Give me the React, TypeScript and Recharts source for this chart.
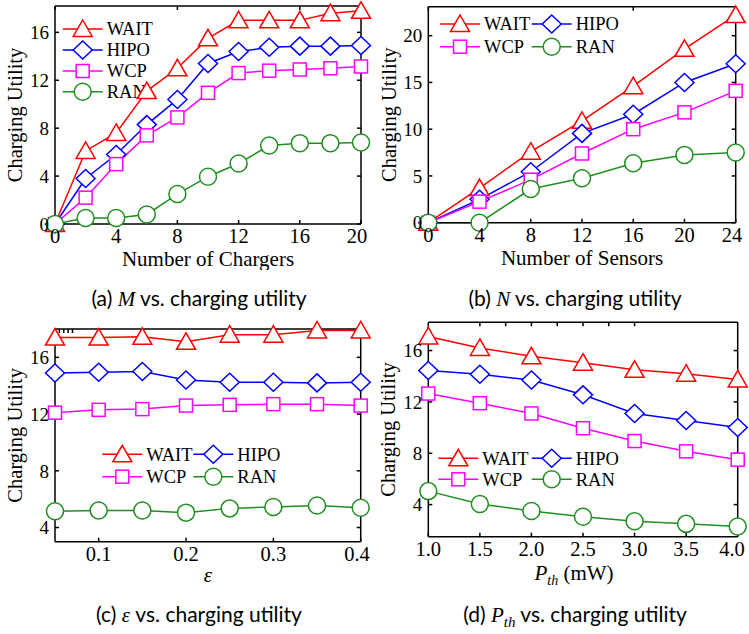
import { LineChart, Line, XAxis, YAxis } from "recharts"

const SERIF = '"Liberation Serif", "Times New Roman", serif'
const SANS = 'Lato, "Noto Sans", sans-serif'

// (a) number of chargers
const chargerCounts = [0, 2, 4, 6, 8, 10, 12, 14, 16, 18, 20]
const waitByChargers = [0, 6.1, 7.6, 11.1, 13.0, 15.5, 17.0, 17.0, 17.0, 17.6, 17.8]
const hipoByChargers = [0, 3.8, 5.8, 8.3, 10.4, 13.4, 14.4, 14.75, 14.85, 14.85, 14.9]
const wcpByChargers = [0, 2.2, 5.0, 7.4, 8.9, 10.95, 12.6, 12.8, 12.9, 13.0, 13.15]
const ranByChargers = [0, 0.5, 0.5, 0.8, 2.5, 3.95, 5.05, 6.55, 6.75, 6.75, 6.8]

// (b) number of sensors
const sensorCounts = [0, 4, 8, 12, 16, 20, 24]
const waitBySensors = [0, 3.7, 7.6, 10.9, 14.6, 18.6, 22.2]
const hipoBySensors = [0, 2.5, 5.45, 9.55, 11.6, 15.0, 17.0]
const wcpBySensors = [0, 2.25, 4.6, 7.4, 10.0, 11.8, 14.1]
const ranBySensors = [0, 0, 3.6, 4.75, 6.35, 7.25, 7.5]

// (c) epsilon
const epsilons = [0.05, 0.1, 0.15, 0.2, 0.25, 0.3, 0.35, 0.4]
const waitByEps = [17.4, 17.4, 17.45, 17.1, 17.6, 17.6, 17.9, 17.9]
const hipoByEps = [14.9, 14.95, 15.0, 14.4, 14.25, 14.25, 14.2, 14.25]
const wcpByEps = [12.1, 12.3, 12.35, 12.6, 12.65, 12.7, 12.7, 12.6]
const ranByEps = [5.15, 5.2, 5.2, 5.05, 5.35, 5.45, 5.55, 5.4]

// (d) power threshold
const pthValues = [1.0, 1.5, 2.0, 2.5, 3.0, 3.5, 4.0]
const waitByPth = [17.1, 16.2, 15.55, 15.05, 14.5, 14.2, 13.75]
const hipoByPth = [14.45, 14.15, 13.7, 12.55, 11.1, 10.55, 10.0]
const wcpByPth = [12.65, 11.9, 11.1, 9.95, 8.95, 8.15, 7.5]
const ranByPth = [5.05, 4.05, 3.5, 3.05, 2.7, 2.5, 2.3]

const series = [
  { key: "WAIT", color: "#ff0000", shape: "triangle" },
  { key: "HIPO", color: "#0000ff", shape: "diamond" },
  { key: "WCP", color: "#ff00ff", shape: "square" },
  { key: "RAN", color: "#1f8f1f", shape: "circle" },
]

const rows = (xs: number[], w: number[], h: number[], c: number[], r: number[]) =>
  xs.map((x, i) => ({ x, WAIT: w[i], HIPO: h[i], WCP: c[i], RAN: r[i] }))

function Marker({ shape, cx, cy, color }: { shape: string; cx: number; cy: number; color: string }) {
  const common = { fill: "#fff", stroke: color, strokeWidth: 1.5 }
  if (shape === "triangle")
    return <polygon points={`${cx},${cy - 9} ${cx + 9.5},${cy + 7.5} ${cx - 9.5},${cy + 7.5}`} {...common} />
  if (shape === "diamond")
    return <polygon points={`${cx},${cy - 9} ${cx + 9.5},${cy} ${cx},${cy + 9} ${cx - 9.5},${cy}`} {...common} />
  if (shape === "square") return <rect x={cx - 6.5} y={cy - 6.5} width={13} height={13} {...common} />
  return <circle cx={cx} cy={cy} r={8.5} {...common} />
}

type Box = { top: number; right: number; bottom: number; left: number }

type PanelProps = {
  data: any[]
  height?: number
  xDomain: [number, number]
  xTicks: number[]
  yDomain: [number, number]
  yTicks: number[]
  plot: Box // plot frame edges, in chart pixels
  xFmt?: (v: number) => string
  legend: { key: string; x: number; y: number }[]
  xLabel: React.ReactNode
  yLabelX: number
}

const W = 375
const AX = 1 // axes need a non-zero size to be drawn

function Panel(p: PanelProps) {
  const H = p.height ?? 270
  const margin = {
    top: p.plot.top - AX,
    left: p.plot.left - AX,
    right: W - p.plot.right - AX,
    bottom: H - p.plot.bottom - AX,
  }
  const plotMid = (p.plot.top + p.plot.bottom) / 2
  const axisStyle = { stroke: "#000", strokeWidth: 1.5 }
  const noLabel = () => <g />
  const fmt = p.xFmt ?? ((v: number) => String(v))
  // last label is pulled in a little so it stays inside the figure, like the original
  const xTick = (t: any) => (
    <text
      x={Math.min(t.x, W - 18)}
      y={t.y}
      dy="0.71em"
      textAnchor="middle"
      fontSize={20.5}
      fontFamily={SERIF}
      fill="#000"
    >
      {fmt(t.payload.value)}
    </text>
  )
  return (
    <LineChart width={W} height={H} data={p.data} margin={margin}>
      <XAxis
        dataKey="x"
        type="number"
        domain={p.xDomain}
        ticks={p.xTicks}
        interval={0}
        height={AX}
        tickSize={-4}
        tickMargin={8.5}
        axisLine={axisStyle}
        tickLine={axisStyle}
        tick={xTick}
      />
      <XAxis
        xAxisId="top"
        orientation="top"
        type="number"
        domain={p.xDomain}
        ticks={p.xTicks}
        allowDataOverflow
        interval={0}
        height={AX}
        tickSize={-4}
        axisLine={axisStyle}
        tickLine={axisStyle}
        tick={noLabel}
      />
      <YAxis
        type="number"
        domain={p.yDomain}
        ticks={p.yTicks}
        interval={0}
        width={AX}
        tickSize={-4}
        tickMargin={10}
        axisLine={axisStyle}
        tickLine={axisStyle}
        tick={{ fill: "#000", fontSize: 19, fontFamily: SERIF }}
      />
      <YAxis
        yAxisId="right"
        orientation="right"
        type="number"
        domain={p.yDomain}
        ticks={p.yTicks}
        allowDataOverflow
        interval={0}
        width={AX}
        tickSize={-4}
        axisLine={axisStyle}
        tickLine={axisStyle}
        tick={noLabel}
      />
      {series.map((s) => (
        <Line
          key={s.key}
          dataKey={s.key}
          type="linear"
          stroke={s.color}
          strokeWidth={1.5}
          isAnimationActive={false}
          activeDot={false}
          dot={(d: any) => <Marker key={`${s.key}-${d.index}`} shape={s.shape} cx={d.cx} cy={d.cy} color={s.color} />}
        />
      ))}
      <g>
        {p.legend.map((l) => {
          const s = series.find((t) => t.key === l.key)!
          return (
            <g key={l.key}>
              <line x1={l.x - 20} x2={l.x + 20} y1={l.y} y2={l.y} stroke={s.color} strokeWidth={1.5} />
              <Marker shape={s.shape} cx={l.x} cy={l.y} color={s.color} />
              <text x={l.x + 24} y={l.y + 6.3} fontSize={18.5} fontFamily={SERIF} fill="#000">
                {l.key}
              </text>
            </g>
          )
        })}
      </g>
      <text
        x={p.yLabelX}
        y={plotMid}
        transform={`rotate(-90, ${p.yLabelX}, ${plotMid})`}
        textAnchor="middle"
        fontSize={20.5}
        fontFamily={SERIF}
        fill="#000"
      >
        Charging Utility
      </text>
      {p.xLabel}
    </LineChart>
  )
}

const xTitle = (x: number, y: number, children: React.ReactNode) => (
  <text x={x} y={y} textAnchor="middle" fontSize={21} fontFamily={SERIF} fill="#000">
    {children}
  </text>
)

const captionStyle = (left: number, top: number): React.CSSProperties => ({
  position: "absolute",
  left: left - 200,
  top,
  width: 400,
  textAlign: "center",
  fontFamily: SANS,
  fontSize: 21,
  lineHeight: "21px",
  color: "#000",
  whiteSpace: "nowrap",
})

const mathStyle: React.CSSProperties = { fontFamily: SERIF, fontStyle: "italic" }

export default function App() {
  return (
    <div style={{ position: "relative", width: 749, height: 634, background: "#fff", overflow: "hidden" }}>
      <style>{`body{margin:0}`}</style>
      <div style={{ position: "absolute", left: 0, top: 0 }}>
        <Panel
          data={rows(chargerCounts, waitByChargers, hipoByChargers, wcpByChargers, ranByChargers)}
          xDomain={[0, 20]}
          xTicks={[0, 4, 8, 12, 16, 20]}
          yDomain={[0, 18.2]}
          yTicks={[0, 4, 8, 12, 16]}
          plot={{ top: 6, right: 361, bottom: 224, left: 55 }}
          legend={[
            { key: "WAIT", x: 82.7, y: 29 },
            { key: "HIPO", x: 82.7, y: 50 },
            { key: "WCP", x: 82.7, y: 71 },
            { key: "RAN", x: 82.7, y: 91.7 },
          ]}
          xLabel={xTitle(208, 266, "Number of Chargers")}
          yLabelX={22}
        />
      </div>
      <div style={{ position: "absolute", left: 375, top: 0 }}>
        <Panel
          data={rows(sensorCounts, waitBySensors, hipoBySensors, wcpBySensors, ranBySensors)}
          xDomain={[0, 24]}
          xTicks={[0, 4, 8, 12, 16, 20, 24]}
          yDomain={[0, 23.1]}
          yTicks={[0, 5, 10, 15, 20]}
          plot={{ top: 6.7, right: 360.7, bottom: 222.7, left: 53.3 }}
          legend={[
            { key: "WAIT", x: 85, y: 24 },
            { key: "HIPO", x: 176.7, y: 24 },
            { key: "WCP", x: 85, y: 46.7 },
            { key: "RAN", x: 176.7, y: 46.7 },
          ]}
          xLabel={xTitle(207, 265, "Number of Sensors")}
          yLabelX={21}
        />
      </div>
      <div style={{ position: "absolute", left: 0, top: 315 }}>
        <Panel
          data={rows(epsilons, waitByEps, hipoByEps, wcpByEps, ranByEps)}
          height={280}
          xDomain={[0.05, 0.4]}
          xTicks={[0.1, 0.2, 0.3, 0.4]}
          yDomain={[3, 18]}
          yTicks={[4, 8, 12, 16]}
          plot={{ top: 14, right: 360.7, bottom: 226.7, left: 55 }}
          xFmt={(v) => v.toFixed(1)}
          legend={[
            { key: "WAIT", x: 122.3, y: 139.3 },
            { key: "HIPO", x: 213.3, y: 139.3 },
            { key: "WCP", x: 122.3, y: 161.7 },
            { key: "RAN", x: 213.3, y: 161.7 },
          ]}
          xLabel={
            <text x={208} y={267} textAnchor="middle" fontSize={21} fontFamily={SERIF} fontStyle="italic" fill="#000">
              ε
            </text>
          }
          yLabelX={22}
        />
      </div>
      <div style={{ position: "absolute", left: 375, top: 315 }}>
        <Panel
          data={rows(pthValues, waitByPth, hipoByPth, wcpByPth, ranByPth)}
          height={280}
          xDomain={[1, 4]}
          xTicks={[1, 1.5, 2, 2.5, 3, 3.5, 4]}
          yDomain={[1.5, 18.2]}
          yTicks={[4, 8, 12, 16]}
          plot={{ top: 7.3, right: 362.7, bottom: 221.7, left: 53.3 }}
          xFmt={(v) => v.toFixed(1)}
          legend={[
            { key: "WAIT", x: 83.3, y: 143.3 },
            { key: "HIPO", x: 176.7, y: 143.3 },
            { key: "WCP", x: 83.3, y: 164.3 },
            { key: "RAN", x: 176.7, y: 164.3 },
          ]}
          xLabel={
            <text x={199} y={264.5} textAnchor="middle" fontSize={21} fontFamily={SERIF} fill="#000">
              <tspan fontStyle="italic">P</tspan>
              <tspan fontStyle="italic" fontSize={14} dy={5}>th</tspan>
              <tspan dy={-5}> (mW)</tspan>
            </text>
          }
          yLabelX={20}
        />
      </div>
      <div style={captionStyle(199, 287)}>
        (a) <span style={mathStyle}>M</span> vs. charging utility
      </div>
      <div style={captionStyle(575, 287)}>
        (b) <span style={mathStyle}>N</span> vs. charging utility
      </div>
      <div style={captionStyle(199, 603)}>
        (c) <span style={mathStyle}>ε</span> vs. charging utility
      </div>
      <div style={captionStyle(575, 603)}>
        (d) <span style={mathStyle}>P<sub style={{ fontSize: 15 }}>th</sub></span> vs. charging utility
      </div>
    </div>
  )
}
